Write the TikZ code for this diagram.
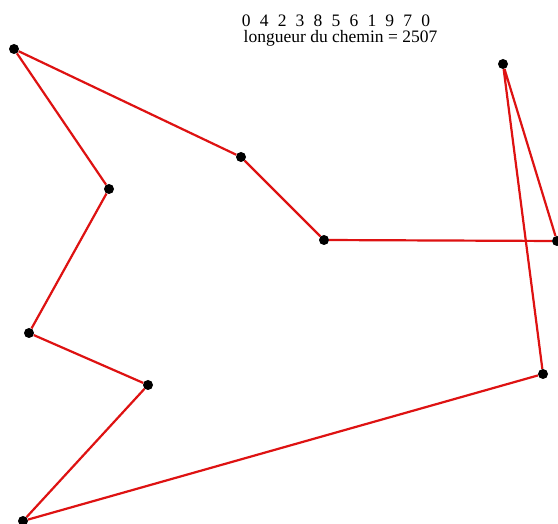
\documentclass[tikz,border=0pt]{standalone}
\usepackage{fontspec}
\setmainfont{Liberation Serif}
\usepackage{xcolor}
\usepackage{tikz}
\definecolor{pathred}{RGB}{222,18,18}

\begin{document}
\begin{tikzpicture}[
  x=1pt, y=-1pt,
  town/.style={circle, fill=black, inner sep=0pt, minimum size=10pt},
  leg/.style={draw=pathred, line width=2.2pt},
  info/.style={font=\fontsize{17.5}{19}\selectfont, inner sep=0pt, anchor=base}]
  \useasboundingbox[fill=white] (0,0) rectangle (558,524);
  % towns
  \node[town] (t0) at (14,49) {};
  \node[town] (t1) at (148,385) {};
  \node[town] (t2) at (324,240) {};
  \node[town] (t3) at (557,241) {};
  \node[town] (t4) at (241,157) {};
  \node[town] (t5) at (543,374) {};
  \node[town] (t6) at (23,521) {};
  \node[town] (t7) at (109,189) {};
  \node[town] (t8) at (503,64) {};
  \node[town] (t9) at (29,333) {};
  % tour
  \draw[leg] (t0) -- (t4) -- (t2) -- (t3) -- (t8) -- (t5) -- (t6) -- (t1) -- (t9) -- (t7) -- (t0);
  % result
  \node[info] (order) at (336,27) {0\hspace{9.2pt}4\hspace{9.2pt}2\hspace{9.2pt}3\hspace{9.2pt}8\hspace{9.2pt}5\hspace{9.2pt}6\hspace{9.2pt}1\hspace{9.2pt}9\hspace{9.2pt}7\hspace{9.2pt}0};
  \node[info] (len) at (340.5,43) {longueur du chemin = 2507};
\end{tikzpicture}
\end{document}
